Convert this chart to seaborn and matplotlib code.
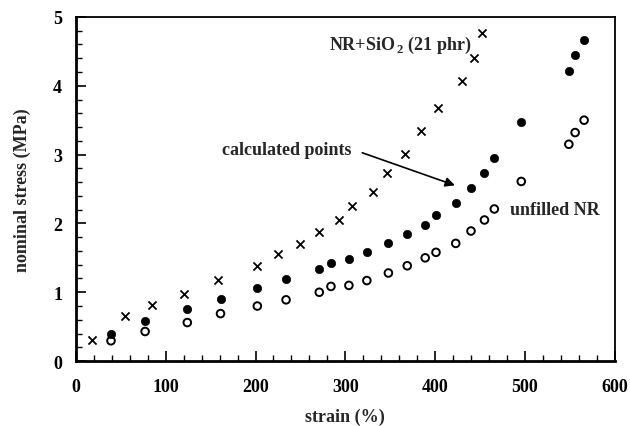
import numpy as np
import pandas as pd
import matplotlib
matplotlib.use("Agg")
import matplotlib.pyplot as plt
import seaborn as sns
from matplotlib.ticker import MultipleLocator

# NR + SiO2 (21 phr), crosses
silica_strain = [18, 55, 85, 120, 158, 202, 225, 249, 271, 293, 307, 331, 347,
                 367, 384, 403, 430, 443, 452]
silica_stress = [0.31, 0.65, 0.81, 0.98, 1.18, 1.38, 1.55, 1.70, 1.875, 2.05,
                 2.25, 2.46, 2.73, 3.01, 3.35, 3.68, 4.07, 4.41, 4.76]

# calculated points (filled) and unfilled NR (open) share strains
nr_strain = [39, 77, 124, 161, 202, 234, 271, 284, 304, 324, 348, 369, 389,
             401, 423, 440, 455, 466, 496, 549, 556, 566]
calc_stress = [0.39, 0.58, 0.75, 0.905, 1.06, 1.19, 1.34, 1.42, 1.48, 1.58,
               1.715, 1.84, 1.97, 2.12, 2.30, 2.51, 2.73, 2.95, 3.47, 4.21,
               4.45, 4.67]
unfilled_stress = [0.295, 0.43, 0.56, 0.69, 0.80, 0.89, 1.0, 1.085, 1.10, 1.17,
                   1.28, 1.385, 1.50, 1.58, 1.71, 1.89, 2.05, 2.21, 2.61, 3.15,
                   3.32, 3.50]

sns.set_theme(style="ticks")
plt.rcParams["font.family"] = ["Liberation Serif", "DejaVu Serif"]
plt.rcParams["font.weight"] = "bold"
plt.rcParams["mathtext.fontset"] = "custom"
plt.rcParams["mathtext.rm"] = "Liberation Serif:bold"
plt.rcParams["mathtext.bf"] = "Liberation Serif:bold"

fig = plt.figure(figsize=(6.3, 4.27), dpi=100)
ax = fig.add_axes([0.1206, 0.152, 0.855, 0.806])

silica = pd.DataFrame({"strain": silica_strain, "stress": silica_stress})
nr = pd.DataFrame({"strain": nr_strain, "calc": calc_stress,
                   "unfilled": unfilled_stress})

sns.scatterplot(data=silica, x="strain", y="stress", marker="x", s=34,
                color="black", linewidth=1.3, ax=ax)
sns.scatterplot(data=nr, x="strain", y="calc", marker="o", s=36,
                color="black", edgecolor="black", ax=ax)
sns.scatterplot(data=nr, x="strain", y="unfilled", marker="o", s=30,
                facecolor="none", edgecolor="black", linewidth=1.4, ax=ax)

ax.set_xlim(0, 600)
ax.set_ylim(0, 5)
ax.xaxis.set_major_locator(MultipleLocator(100))
ax.xaxis.set_minor_locator(MultipleLocator(20))
ax.yaxis.set_major_locator(MultipleLocator(1))
ax.yaxis.set_minor_locator(MultipleLocator(0.2))
ax.tick_params(which="both", direction="in", colors="black", labelsize=13,
               top=False, right=False)
ax.tick_params(which="major", length=7, width=1.2)
ax.tick_params(axis="x", which="major", pad=12)
ax.tick_params(axis="y", which="major", pad=10)
ax.tick_params(which="minor", length=4, width=1.0)
for lab in ax.get_xticklabels() + ax.get_yticklabels():
    lab.set_fontweight("bold")

for side in ["left", "bottom"]:
    ax.spines[side].set_linewidth(2.0)
for side in ["top", "right"]:
    ax.spines[side].set_linewidth(1.3)
for spine in ax.spines.values():
    spine.set_color("black")

ax.set_xlabel("strain (%)", fontsize=13, fontweight="bold", labelpad=9)
ax.set_ylabel("nominal stress (MPa)", fontsize=13, fontweight="bold", labelpad=16)

ax.text(282, 4.6, r"NR+SiO$_{\,2}$ (21 phr)", fontsize=13, fontweight="bold",
        va="center", ha="left")
ax.text(163, 3.08, "calculated points", fontsize=13, fontweight="bold",
        va="center", ha="left")
ax.annotate("", xy=(425, 2.54), xytext=(316, 3.04),
            arrowprops=dict(arrowstyle="-|>", color="black", lw=1.2,
                            mutation_scale=14))
ax.text(483, 2.2, "unfilled NR", fontsize=13, fontweight="bold",
        va="center", ha="left")

fig.savefig("out.png", dpi=100)
